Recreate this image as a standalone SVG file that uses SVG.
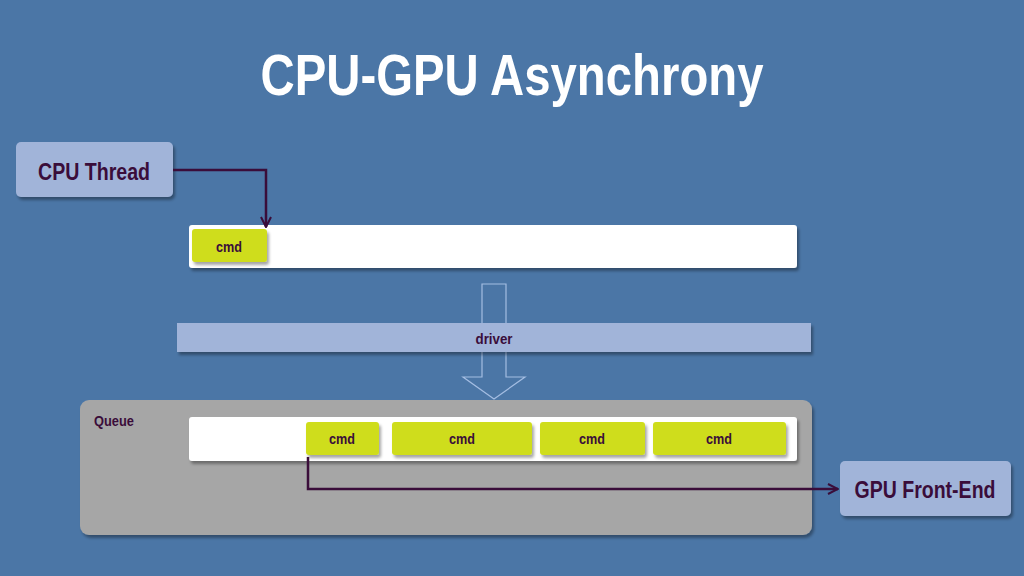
<svg xmlns="http://www.w3.org/2000/svg" width="1024" height="576" viewBox="0 0 1024 576">
<defs>
<style>
.t{font-family:"Liberation Sans",Arial,sans-serif;font-weight:bold;fill:#3a0d3a;text-anchor:middle}
.lb{fill:#a1b4d9}
.lime{fill:#cfdd1b}
.wh{fill:#ffffff}
.conn{fill:none;stroke:#3a0d3a;stroke-width:2.5}
</style>
<filter id="sh" x="-10%" y="-20%" width="120%" height="160%">
<feDropShadow dx="2" dy="3" stdDeviation="1.5" flood-color="#000" flood-opacity="0.35"/>
</filter>
<marker id="ah" viewBox="0 0 10 10" refX="9" refY="5" markerWidth="5" markerHeight="5" orient="auto" markerUnits="strokeWidth">
<path d="M1,1 L9,5 L1,9" fill="none" stroke="#3a0d3a" stroke-width="1.6"/>
</marker>
</defs>
<rect width="1024" height="576" fill="#4b76a6"/>
<text x="512" y="95" font-size="58" textLength="503" lengthAdjust="spacingAndGlyphs" style="font-family:'Liberation Sans',Arial,sans-serif;font-weight:bold;fill:#fff;text-anchor:middle">CPU-GPU Asynchrony</text>

<g id="cpu-thread">
<rect x="16" y="142" width="157" height="55" rx="5" class="lb" filter="url(#sh)"/>
<text x="94" y="180" font-size="24" textLength="112" lengthAdjust="spacingAndGlyphs" class="t">CPU Thread</text>
</g>

<g id="top-queue">
<rect x="189" y="225" width="608" height="43" rx="3" class="wh" filter="url(#sh)"/>
<g id="top-cmd">
<rect x="192" y="229" width="75" height="33" rx="3" class="lime" filter="url(#sh)"/>
<text x="229" y="252" font-size="15" textLength="26" lengthAdjust="spacingAndGlyphs" class="t">cmd</text>
</g>
</g>

<g id="hollow-arrow">
<path d="M482,284 L506,284 L506,377 L525,377 L494,399 L463,377 L482,377 Z" fill="none" stroke="#a4bde2" stroke-width="1.2"/>
</g>

<g id="driver">
<rect x="177" y="323" width="634" height="29" class="lb" filter="url(#sh)"/>
<text x="494" y="344" font-size="15" textLength="37" lengthAdjust="spacingAndGlyphs" class="t">driver</text>
</g>

<g id="queue">
<rect x="80" y="400" width="732" height="135" rx="9" fill="#a6a6a6" filter="url(#sh)"/>
<text x="114" y="426" font-size="15" textLength="40" lengthAdjust="spacingAndGlyphs" class="t">Queue</text>
<rect x="189" y="417" width="608" height="44" rx="3" class="wh" filter="url(#sh)"/>
</g>

<g id="cmd1">
<rect x="306" y="422" width="73" height="33" rx="3" class="lime" filter="url(#sh)"/>
<text x="342" y="444" font-size="15" textLength="26" lengthAdjust="spacingAndGlyphs" class="t">cmd</text>
</g>
<g id="cmd2">
<rect x="392" y="422" width="140" height="33" rx="3" class="lime" filter="url(#sh)"/>
<text x="462" y="444" font-size="15" textLength="26" lengthAdjust="spacingAndGlyphs" class="t">cmd</text>
</g>
<g id="cmd3">
<rect x="540" y="422" width="105" height="33" rx="3" class="lime" filter="url(#sh)"/>
<text x="592" y="444" font-size="15" textLength="26" lengthAdjust="spacingAndGlyphs" class="t">cmd</text>
</g>
<g id="cmd4">
<rect x="653" y="422" width="133" height="33" rx="3" class="lime" filter="url(#sh)"/>
<text x="719" y="444" font-size="15" textLength="26" lengthAdjust="spacingAndGlyphs" class="t">cmd</text>
</g>

<g id="gpu-front-end">
<rect x="840" y="461" width="171" height="55" rx="5" class="lb" filter="url(#sh)"/>
<text x="925" y="498" font-size="23" textLength="141" lengthAdjust="spacingAndGlyphs" class="t">GPU Front-End</text>
</g>

<g id="connectors">
<path d="M173,170 L266,170 L266,227" class="conn" marker-end="url(#ah)"/>
<path d="M308,457 L308,489 L838,489" class="conn" marker-end="url(#ah)"/>
</g>
</svg>
